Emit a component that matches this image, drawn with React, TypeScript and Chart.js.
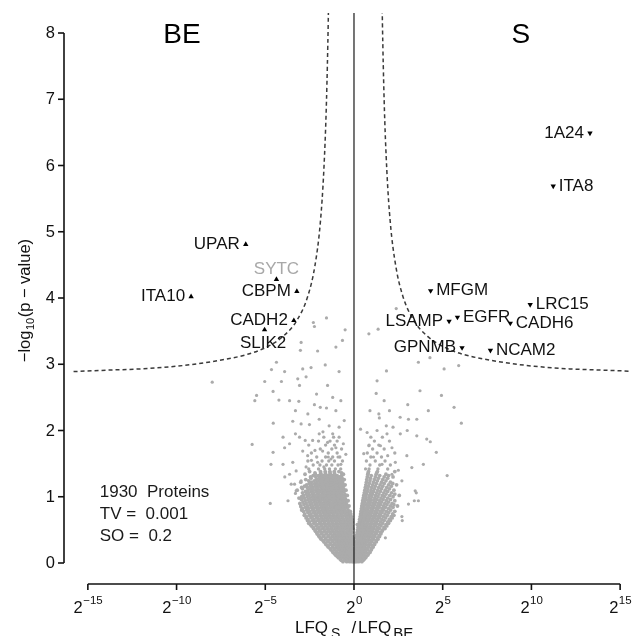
import React, { useEffect, useRef } from 'react';
import { Chart, registerables } from 'chart.js';

Chart.register(...registerables);

const FONT = '"Liberation Sans", Arial, Helvetica, sans-serif';

// ---- text / tick data ----
const groupLabels = ['BE', 'S'];
const yTicks = [0, 1, 2, 3, 4, 5, 6, 7, 8];
const xTickExponents = [-15, -10, -5, 0, 5, 10, 15];
const annotationLines = ['1930  Proteins', 'TV =  0.001', 'SO =  0.2'];

// ---- labelled proteins (enriched in BE, up triangles) ----
const upNames = ['UPAR', 'SYTC', 'CBPM', 'ITA10', 'CADH2', 'SLIK2'];
const upX = [-6.1, -4.37, -3.22, -9.18, -3.39, -5.04];
const upY = [4.81, 4.28, 4.1, 4.02, 3.66, 3.52];

// ---- labelled proteins (enriched in S, down triangles) ----
const downNames = ['MFGM', 'LRC15', 'LSAMP', 'EGFR', 'CADH6', 'GPNMB', 'NCAM2', '1A24', 'ITA8'];
const downX = [4.32, 9.93, 5.36, 5.83, 8.81, 6.09, 7.69, 13.3, 11.23];
const downY = [4.11, 3.9, 3.65, 3.71, 3.62, 3.25, 3.21, 6.49, 5.69];

// label placement (style, not data)
const upSide = ['left', 'above', 'left', 'left', 'left', 'below'];
const downSide = ['right', 'right', 'left', 'right', 'right', 'left', 'right', 'left', 'right'];
const greyLabels = ['SYTC'];

// ---- significance curves ----
const curveLeftX = [-16.2, -14, -12, -10, -8, -6, -5, -4, -3.2, -2.6, -2.2, -1.9, -1.7, -1.55, -1.45, -1.4];
const curveLeftY = [2.885, 2.91, 2.93, 2.97, 3.04, 3.15, 3.25, 3.42, 3.67, 4.03, 4.49, 5.13, 5.93, 6.98, 8.19, 9.1];
const curveRightX = [1.55, 1.6, 1.7, 1.85, 2.05, 2.35, 2.75, 3.35, 4.15, 5.15, 6.15, 8.15, 10.15, 12.15, 14.15, 16];
const curveRightY = [9.1, 8.19, 6.98, 5.93, 5.13, 4.49, 4.03, 3.67, 3.42, 3.25, 3.15, 3.04, 2.97, 2.93, 2.91, 2.89];

// ---- background proteins: dense core, rows of [y, x...] ----
const coreRowsA: number[][] = [
  [0.02, -0.62, -0.41, -0.25, -0.12, -0.03, 0.05, 0.14, 0.27, 0.44],
  [0.06, -0.78, -0.55, -0.38, -0.22, -0.09, 0.02, 0.11, 0.23, 0.36, 0.58],
  [0.1, -0.95, -0.7, -0.52, -0.35, -0.2, -0.08, 0.06, 0.17, 0.31, 0.47, 0.69],
  [0.14, -1.1, -0.86, -0.64, -0.47, -0.3, -0.15, -0.04, 0.09, 0.22, 0.38, 0.55, 0.81],
  [0.18, -1.22, -0.98, -0.77, -0.58, -0.41, -0.26, -0.11, 0.03, 0.15, 0.29, 0.45, 0.63, 0.9],
  [0.22, -1.35, -1.08, -0.9, -0.69, -0.52, -0.36, -0.2, -0.07, 0.08, 0.2, 0.36, 0.52, 0.71, 0.99],
  [0.26, -1.5, -1.2, -0.99, -0.8, -0.62, -0.45, -0.3, -0.14, 0.1, 0.24, 0.4, 0.58, 0.79, 1.06],
  [0.3, -1.62, -1.33, -1.1, -0.9, -0.72, -0.55, -0.38, -0.22, -0.08, 0.13, 0.3, 0.47, 0.66, 0.88, 1.15],
  [0.34, -1.75, -1.45, -1.22, -1.0, -0.82, -0.63, -0.47, -0.3, -0.13, 0.17, 0.35, 0.53, 0.72, 0.95, 1.25],
  [0.38, -1.9, -1.58, -1.31, -1.1, -0.91, -0.72, -0.55, -0.37, -0.2, 0.11, 0.22, 0.41, 0.6, 0.8, 1.02, 1.33],
  [0.42, -2.0, -1.7, -1.44, -1.2, -1.0, -0.8, -0.62, -0.44, -0.26, 0.15, 0.27, 0.46, 0.66, 0.86, 1.1, 1.42],
  [0.46, -2.1, -1.8, -1.55, -1.31, -1.09, -0.89, -0.7, -0.5, -0.3, -0.12, 0.18, 0.32, 0.52, 0.71, 0.93, 1.18, 1.5],
  [0.5, -2.2, -1.9, -1.63, -1.4, -1.18, -0.97, -0.77, -0.57, -0.36, -0.16, 0.2, 0.37, 0.57, 0.77, 0.99, 1.25, 1.62],
  [0.54, -2.3, -1.98, -1.72, -1.49, -1.26, -1.05, -0.84, -0.63, -0.42, -0.2, 0.23, 0.42, 0.62, 0.84, 1.06, 1.33, 1.7],
  [0.58, -2.45, -2.08, -1.81, -1.57, -1.34, -1.12, -0.9, -0.69, -0.48, -0.25, 0.19, 0.27, 0.47, 0.68, 0.9, 1.14, 1.42, 1.8],
  [0.62, -2.5, -2.18, -1.9, -1.65, -1.41, -1.19, -0.97, -0.75, -0.53, -0.29, -0.1, 0.3, 0.51, 0.73, 0.96, 1.2, 1.5, 1.9],
  [0.66, -2.6, -2.26, -1.97, -1.72, -1.48, -1.25, -1.03, -0.81, -0.58, -0.33, -0.12, 0.32, 0.55, 0.78, 1.02, 1.28, 1.58, 2.0],
  [0.7, -2.68, -2.35, -2.05, -1.79, -1.55, -1.31, -1.08, -0.86, -0.63, -0.38, -0.15, 0.35, 0.59, 0.83, 1.08, 1.35, 1.66, 2.1],
  [0.74, -2.78, -2.42, -2.12, -1.86, -1.61, -1.37, -1.14, -0.9, -0.67, -0.42, -0.18, 0.37, 0.62, 0.88, 1.14, 1.42, 1.75, 2.18],
  [0.78, -2.85, -2.5, -2.2, -1.92, -1.67, -1.43, -1.19, -0.95, -0.71, -0.46, -0.21, 0.39, 0.66, 0.92, 1.2, 1.5, 1.84, 2.3],
  [0.82, -2.9, -2.57, -2.26, -1.98, -1.72, -1.48, -1.23, -0.99, -0.75, -0.5, 0.42, 0.7, 0.97, 1.26, 1.58, 1.95],
  [0.86, -3.0, -2.62, -2.31, -2.03, -1.77, -1.52, -1.27, -1.03, -0.78, -0.53, -0.28, 0.44, 0.73, 1.02, 1.32, 1.66, 2.05, 2.45],
  [0.9, -3.05, -2.7, -2.38, -2.09, -1.82, -1.56, -1.31, -1.06, -0.81, -0.56, 0.47, 0.77, 1.07, 1.38, 1.74, 2.15],
  [0.94, -2.75, -2.42, -2.13, -1.86, -1.6, -1.35, -1.1, -0.85, -0.6, -0.33, 0.49, 0.8, 1.12, 1.45, 1.82, 2.3],
  [0.98, -3.1, -2.8, -2.47, -2.18, -1.9, -1.64, -1.38, -1.13, -0.88, -0.63, 0.52, 0.84, 1.17, 1.52, 1.9],
  [1.02, -2.85, -2.52, -2.22, -1.94, -1.67, -1.41, -1.16, -0.91, -0.66, -0.38, 0.55, 0.88, 1.22, 1.6, 2.02, 2.55],
  [1.06, -2.9, -2.56, -2.26, -1.97, -1.7, -1.44, -1.19, -0.94, -0.69, 0.58, 0.92, 1.28, 1.68, 2.12],
  [1.1, -3.2, -2.6, -2.3, -2.0, -1.73, -1.47, -1.22, -0.97, -0.72, -0.45, 0.61, 0.96, 1.34, 1.76, 2.25],
  [1.14, -2.95, -2.63, -2.32, -2.03, -1.76, -1.5, -1.25, -0.99, -0.74, 0.64, 1.0, 1.4, 1.85],
  [1.18, -2.67, -2.36, -2.06, -1.78, -1.52, -1.27, -1.01, -0.76, -0.5, 0.67, 1.05, 1.47, 1.95, 2.4],
  [1.22, -3.0, -2.4, -2.09, -1.8, -1.54, -1.29, -1.03, -0.78, 0.7, 1.1, 1.55, 2.05],
  [1.26, -2.72, -2.12, -1.82, -1.56, -1.3, -1.05, -0.8, -0.55, 0.72, 1.15, 1.62],
  [1.3, -2.45, -2.15, -1.84, -1.58, -1.32, -1.07, -0.82, 0.75, 1.2, 1.7, 2.2],
  [1.34, -2.76, -2.18, -1.86, -1.6, -1.34, -1.09, -0.6, 0.78, 1.25, 1.8],
  [1.38, -2.5, -1.89, -1.62, -1.36, -1.11, -0.85, 0.82, 1.32, 2.3],
];

// interleaved rows, placed between the points of the rows above
const coreRowsB: number[][] = [
  [0.04, -0.72, -0.5, -0.33, -0.18, -0.07, 0.01, 0.1, 0.2, 0.35, 0.52],
  [0.08, -0.88, -0.66, -0.46, -0.3, -0.15, -0.04, 0.07, 0.17, 0.3, 0.47, 0.66],
  [0.12, -1.04, -0.82, -0.61, -0.43, -0.27, -0.14, 0.0, 0.12, 0.24, 0.39, 0.58, 0.78],
  [0.16, -1.18, -0.98, -0.75, -0.55, -0.38, -0.22, -0.09, 0.03, 0.15, 0.3, 0.46, 0.68, 0.9],
  [0.2, -1.3, -1.1, -0.87, -0.67, -0.5, -0.33, -0.18, -0.04, 0.09, 0.22, 0.37, 0.54, 0.76, 0.98],
  [0.24, -1.45, -1.21, -0.99, -0.79, -0.6, -0.44, -0.28, -0.13, 0.14, 0.28, 0.44, 0.61, 0.85, 1.08],
  [0.28, -1.58, -1.35, -1.1, -0.9, -0.71, -0.54, -0.37, -0.22, -0.06, 0.17, 0.32, 0.49, 0.68, 0.92, 1.16],
  [0.32, -1.7, -1.48, -1.22, -1.0, -0.81, -0.63, -0.46, -0.3, -0.15, 0.05, 0.21, 0.38, 0.56, 0.77, 1.01, 1.26],
  [0.36, -1.85, -1.6, -1.33, -1.11, -0.91, -0.72, -0.55, -0.38, -0.22, -0.05, 0.26, 0.44, 0.62, 0.83, 1.1, 1.35],
  [0.4, -1.97, -1.74, -1.45, -1.21, -1.0, -0.81, -0.63, -0.46, -0.28, -0.1, 0.16, 0.31, 0.5, 0.7, 0.91, 1.17, 1.44],
  [0.44, -2.08, -1.85, -1.57, -1.32, -1.1, -0.9, -0.71, -0.53, -0.35, -0.17, 0.21, 0.36, 0.56, 0.76, 0.98, 1.26, 1.52],
  [0.48, -2.17, -1.95, -1.67, -1.43, -1.2, -0.99, -0.79, -0.6, -0.4, -0.21, 0.25, 0.42, 0.61, 0.82, 1.05, 1.34, 1.58],
  [0.52, -2.28, -2.05, -1.76, -1.51, -1.29, -1.07, -0.87, -0.67, -0.46, -0.26, -0.07, 0.28, 0.47, 0.67, 0.88, 1.12, 1.43, 1.75],
  [0.56, -2.4, -2.14, -1.85, -1.6, -1.37, -1.15, -0.94, -0.73, -0.52, -0.31, -0.1, 0.32, 0.52, 0.73, 0.95, 1.2, 1.52, 1.85],
  [0.6, -2.55, -2.26, -1.94, -1.69, -1.45, -1.23, -1.01, -0.79, -0.58, -0.36, -0.14, 0.37, 0.57, 0.79, 1.02, 1.28, 1.61, 1.95],
  [0.64, -2.62, -2.34, -2.04, -1.77, -1.53, -1.3, -1.08, -0.86, -0.64, -0.41, -0.2, 0.4, 0.62, 0.84, 1.08, 1.35, 1.7, 2.05],
  [0.68, -2.7, -2.43, -2.11, -1.84, -1.6, -1.36, -1.14, -0.92, -0.69, -0.45, -0.22, 0.43, 0.66, 0.9, 1.15, 1.43, 1.79, 2.15],
  [0.72, -2.8, -2.51, -2.2, -1.92, -1.67, -1.43, -1.19, -0.97, -0.74, -0.5, -0.26, 0.47, 0.71, 0.95, 1.22, 1.5, 1.88, 2.25],
  [0.76, -2.6, -2.27, -1.99, -1.74, -1.49, -1.25, -1.02, -0.78, -0.54, -0.3, 0.5, 0.75, 1.01, 1.28, 1.58, 1.96],
  [0.8, -2.95, -2.67, -2.35, -2.06, -1.8, -1.55, -1.31, -1.07, -0.83, -0.58, -0.33, 0.53, 0.79, 1.06, 1.35, 1.67, 2.07],
  [0.84, -2.74, -2.42, -2.12, -1.85, -1.6, -1.35, -1.11, -0.87, -0.62, -0.38, 0.56, 0.84, 1.12, 1.42, 1.77, 2.2],
  [0.88, -2.82, -2.47, -2.17, -1.9, -1.65, -1.4, -1.15, -0.91, -0.66, -0.41, 0.59, 0.88, 1.17, 1.49, 1.86, 2.25],
  [0.92, -2.88, -2.54, -2.24, -1.96, -1.69, -1.44, -1.19, -0.94, -0.69, -0.44, 0.62, 0.92, 1.23, 1.56, 1.95],
  [0.96, -2.95, -2.59, -2.28, -2.0, -1.73, -1.48, -1.23, -0.98, -0.73, -0.47, 0.65, 0.96, 1.29, 1.64, 2.06],
  [1.0, -2.95, -2.64, -2.33, -2.05, -1.78, -1.52, -1.26, -1.01, -0.76, -0.5, 0.68, 1.0, 1.35, 1.71, 2.2],
  [1.04, -2.69, -2.37, -2.08, -1.8, -1.54, -1.29, -1.04, -0.79, -0.52, 0.71, 1.05, 1.41, 1.81, 2.3],
  [1.08, -2.73, -2.41, -2.11, -1.83, -1.57, -1.31, -1.06, -0.81, -0.57, 0.75, 1.1, 1.48, 1.9],
  [1.12, -2.9, -2.45, -2.15, -1.86, -1.6, -1.34, -1.09, -0.84, -0.58, 0.78, 1.15, 1.55, 2.0],
  [1.16, -2.79, -2.47, -2.17, -1.89, -1.63, -1.37, -1.12, -0.86, -0.6, 0.82, 1.2, 1.62, 2.1],
  [1.2, -2.52, -2.21, -1.92, -1.65, -1.39, -1.14, -0.88, -0.63, 0.86, 1.26, 1.7, 2.18],
  [1.24, -2.55, -2.24, -1.95, -1.67, -1.41, -1.16, -0.9, -0.64, 0.9, 1.32, 1.8],
  [1.28, -2.42, -1.97, -1.69, -1.43, -1.18, -0.92, -0.67, 0.93, 1.38, 1.9],
  [1.32, -2.3, -2.0, -1.71, -1.45, -1.2, -0.95, -0.7, 0.97, 1.45, 1.95],
  [1.36, -2.2, -1.88, -1.61, -1.35, -1.1, -0.7, 0.8, 1.28],
];

// upper fringe of the cloud
const coreRowsC: number[][] = [
  [1.42, -2.55, -2.0, -1.65, -1.38, -1.05, -0.75, 0.85, 1.35, 1.9],
  [1.48, -2.3, -1.92, -1.55, -1.25, -0.9, 0.9, 1.45, 2.05],
  [1.54, -2.6, -1.8, -1.42, -1.1, -0.65, 0.7, 1.2, 1.75],
  [1.6, -2.1, -1.6, -1.2, -0.8, 0.95, 1.55],
  [1.66, -2.4, -1.45, -0.95, 0.75, 1.3, 2.3],
  [1.72, -1.9, -1.25, -0.7, 1.05, 1.7],
  [1.78, -2.55, -1.6, -1.1, 0.85, 1.4],
  [1.84, -2.0, -1.35, -0.95, 1.15, 2.0],
  [1.9, -1.7, -1.15, 0.95, 1.6],
];

// ---- background proteins: scattered ones ----
const sparseX = [
  -1.55, -2.29, -2.23, -0.5, -2.98, -3.02, -2.05, -1.02, -0.65, -4.37, -4.65, -3.91, -2.89, -2.42, -1.62, -0.84,
  -5.03, -4.09, -3.17, -2.7, -3.07, -4.56, -5.49, -5.59, -4.23, -3.63, -3.11, -2.11, -1.49, -2.23, -1.55, -0.74,
  -1.02, -4.55, -3.45, -2.98, -2.51, -1.96, -1.4, -0.84, -7.99, -5.74, -4.72, -4.68, -4.56, -4.0, -3.91, -3.63,
  -3.72, -3.45, -3.26, -3.54, -3.07, -2.89, -2.61, -2.33, -1.96, -2.05, -1.77, -1.49, -1.3, -1.02, -0.84, -0.74,
  -0.46, -2.98, -2.7, -2.4, -1.2, -0.6, -1.7, -2.2, -3.3, -3.9, -0.9, -1.45, -2.75, -3.3, -1.75, -0.55,
  -2.6, -3.3, -1.9, -1.2, -4.0, -3.63, -3.35, -3.26, -2.98, -2.98,
  2.38, 1.36, 0.84, 3.63, 4.28, 1.83, 5.08, 5.9, 1.3, 1.25, 3.72, 4.93, 3.03, 5.64, 4.19, 1.4,
  1.43, 3.07, 3.54, 6.05, 0.37, 0.74, 1.86, 2.61, 3.54, 4.1, 4.64, 4.3, 5.25, 3.51, 3.4, 2.72,
  0.84, 1.49, 2.14, 2.98, 3.91, 0.65, 1.58, 2.33, 3.26, 2.14, 2.7, 3.45, 3.63, 3.07, 2.7, 1.77,
  2.2, 1.1, 1.9, 2.5, 1.3, 0.55, 3.0, 2.0, 2.6, 0.9, 1.7, 1.82,
];
const sparseY = [
  3.7, 3.63, 3.57, 3.52, 3.33, 3.21, 3.2, 3.26, 3.36, 3.03, 2.92, 2.89, 2.93, 2.95, 2.99, 2.89,
  2.74, 2.74, 2.78, 2.81, 2.68, 2.59, 2.53, 2.45, 2.46, 2.45, 2.44, 2.55, 2.68, 2.39, 2.34, 2.45,
  2.3, 2.11, 2.14, 2.1, 2.09, 2.17, 2.07, 2.05, 2.73, 1.79, 0.9, 1.49, 1.67, 1.9, 1.74, 1.8,
  0.94, 1.52, 1.39, 1.19, 1.9, 1.69, 1.62, 1.85, 1.95, 1.52, 1.69, 1.82, 1.57, 1.74, 1.9, 1.49,
  1.64, 1.24, 1.45, 1.55, 1.95, 1.8, 1.45, 1.7, 1.05, 1.3, 1.6, 1.6, 1.85, 1.95, 1.98, 2.15,
  2.25, 2.3, 2.35, 2.5, 1.49, 1.34, 1.19, 1.09, 0.96, 0.84,
  3.84, 3.53, 3.46, 3.03, 3.1, 2.9, 2.93, 2.98, 2.75, 2.56, 2.6, 2.53, 2.39, 2.35, 2.3, 2.25,
  2.19, 2.17, 2.17, 2.11, 2.02, 1.97, 1.95, 1.95, 1.92, 1.87, 1.67, 1.83, 1.32, 1.06, 0.94, 0.64,
  1.77, 1.77, 1.74, 1.62, 1.49, 1.42, 1.49, 1.52, 1.44, 1.34, 1.24, 1.09, 0.94, 0.89, 0.7, 0.38,
  2.05, 1.6, 1.62, 1.4, 2.0, 1.65, 2.0, 2.3, 2.2, 2.3, 2.45, 2.07,
];

const pairs = (xs: number[], ys: number[]) => xs.map((x, i) => ({ x, y: ys[i] }));
const rowsToPoints = (rows: number[][]) => rows.flatMap(([y, ...xsRow]) => xsRow.map((x) => ({ x, y })));

const decorPlugin = {
  id: 'volcanoDecor',
  afterDatasetsDraw(chart: any) {
    const ctx: CanvasRenderingContext2D = chart.ctx;
    const xs = chart.scales.x;
    const ys = chart.scales.y;
    const ca = chart.chartArea;
    ctx.save();

    // vertical reference line at 2^0
    const x0 = xs.getPixelForValue(0);
    ctx.strokeStyle = '#1a1a1a';
    ctx.lineWidth = 1.2;
    ctx.beginPath();
    ctx.moveTo(x0, ca.top);
    ctx.lineTo(x0, ca.bottom);
    ctx.stroke();

    // y axis
    const axX = ca.left - 7;
    ctx.strokeStyle = '#111';
    ctx.lineWidth = 1.6;
    ctx.beginPath();
    ctx.moveTo(axX, ys.getPixelForValue(yTicks[0]));
    ctx.lineTo(axX, ys.getPixelForValue(yTicks[yTicks.length - 1]));
    ctx.stroke();
    ctx.fillStyle = '#111';
    ctx.font = `16.5px ${FONT}`;
    ctx.textAlign = 'right';
    ctx.textBaseline = 'middle';
    yTicks.forEach((v) => {
      const py = ys.getPixelForValue(v);
      ctx.beginPath();
      ctx.moveTo(axX - 6, py);
      ctx.lineTo(axX, py);
      ctx.stroke();
      ctx.fillText(String(v), axX - 9, py + 0.5);
    });

    // x axis
    const axY = ca.bottom;
    ctx.beginPath();
    ctx.moveTo(xs.getPixelForValue(xTickExponents[0]), axY);
    ctx.lineTo(xs.getPixelForValue(xTickExponents[xTickExponents.length - 1]), axY);
    ctx.stroke();
    ctx.textAlign = 'left';
    ctx.textBaseline = 'alphabetic';
    xTickExponents.forEach((e) => {
      const px = xs.getPixelForValue(e);
      ctx.beginPath();
      ctx.moveTo(px, axY);
      ctx.lineTo(px, axY + 6);
      ctx.stroke();
      const expStr = e < 0 ? '\u2212' + Math.abs(e) : String(e);
      ctx.font = `16.5px ${FONT}`;
      const wb = ctx.measureText('2').width;
      ctx.font = `11.5px ${FONT}`;
      const we = ctx.measureText(expStr).width;
      const start = px - (wb + we) / 2;
      ctx.font = `16.5px ${FONT}`;
      ctx.fillText('2', start, axY + 29);
      ctx.font = `11.5px ${FONT}`;
      ctx.fillText(expStr, start + wb + 0.5, axY + 20);
    });

    // x axis title: LFQ_S /LFQ_BE
    {
      let cx = x0 - 59;
      const base = axY + 49;
      ctx.font = `17px ${FONT}`;
      ctx.fillText('LFQ', cx, base);
      cx += ctx.measureText('LFQ').width + 3;
      ctx.font = `14px ${FONT}`;
      ctx.fillText('S', cx, base + 5);
      cx += ctx.measureText('S').width + 11;
      ctx.font = `17px ${FONT}`;
      ctx.fillText('/', cx, base);
      cx += ctx.measureText('/').width + 2;
      ctx.fillText('LFQ', cx, base);
      cx += ctx.measureText('LFQ').width + 2;
      ctx.font = `15px ${FONT}`;
      ctx.fillText('BE', cx, base + 5);
    }

    // y axis title: -log10(p - value)
    {
      ctx.save();
      ctx.translate(29.5, ys.getPixelForValue(3) - 2);
      ctx.rotate(-Math.PI / 2);
      let cx = 0;
      ctx.font = `16.5px ${FONT}`;
      ctx.fillText('\u2212log', cx, 0);
      cx += ctx.measureText('\u2212log').width + 0.5;
      ctx.font = `11px ${FONT}`;
      ctx.fillText('10', cx, 4);
      cx += ctx.measureText('10').width + 0.5;
      ctx.font = `16.5px ${FONT}`;
      ctx.fillText('(p \u2212 value)', cx, 0);
      ctx.restore();
    }

    // group labels
    ctx.font = `28px ${FONT}`;
    ctx.textAlign = 'center';
    ctx.fillStyle = '#000';
    const groupPos = [-9.7, 9.4];
    groupLabels.forEach((t, i) => {
      ctx.fillText(t, xs.getPixelForValue(groupPos[i]), ca.top + 30);
    });

    // protein labels
    ctx.font = `17px ${FONT}`;
    ctx.textBaseline = 'middle';
    const drawLabels = (names: string[], xsArr: number[], ysArr: number[], sides: string[]) => {
      names.forEach((n, i) => {
        const px = xs.getPixelForValue(xsArr[i]);
        const py = ys.getPixelForValue(ysArr[i]);
        ctx.fillStyle = greyLabels.includes(n) ? '#a8a8a8' : '#111';
        const side = sides[i];
        if (side === 'left') {
          ctx.textAlign = 'right';
          ctx.fillText(n, px - 6, py);
        } else if (side === 'right') {
          ctx.textAlign = 'left';
          ctx.fillText(n, px + 5.5, py);
        } else if (side === 'above') {
          ctx.textAlign = 'center';
          ctx.fillText(n, px, py - 10);
        } else {
          ctx.textAlign = 'center';
          ctx.fillText(n, px - 1.5, py + 14);
        }
      });
    };
    drawLabels(upNames, upX, upY, upSide);
    drawLabels(downNames, downX, downY, downSide);

    // annotation block
    ctx.fillStyle = '#1a1a1a';
    ctx.font = `17px ${FONT}`;
    ctx.textAlign = 'left';
    ctx.textBaseline = 'middle';
    const annX = xs.getPixelForValue(-14.33);
    const annTop = ys.getPixelForValue(1.06);
    annotationLines.forEach((t, i) => {
      ctx.fillText(t, annX, annTop + i * 22);
    });

    ctx.restore();
  },
};

const greyPoint = (data: { x: number; y: number }[], r: number, label: string) => ({
  label,
  data,
  pointRadius: r,
  pointBackgroundColor: '#ababab',
  pointBorderWidth: 0,
  order: 3,
});

export default function App() {
  const ref = useRef<HTMLCanvasElement | null>(null);
  useEffect(() => {
    if (!ref.current) return;
    const chart = new Chart(ref.current, {
      type: 'scatter',
      data: {
        datasets: [
          {
            label: 'BE enriched',
            data: pairs(upX, upY),
            pointStyle: 'triangle',
            pointRadius: 3.1,
            pointBackgroundColor: '#000',
            pointBorderColor: '#000',
            pointBorderWidth: 0,
            order: 1,
          },
          {
            label: 'S enriched',
            data: pairs(downX, downY),
            pointStyle: 'triangle',
            rotation: 180,
            pointRadius: 3.1,
            pointBackgroundColor: '#000',
            pointBorderColor: '#000',
            pointBorderWidth: 0,
            order: 1,
          },
          {
            label: 'threshold left',
            data: pairs(curveLeftX, curveLeftY),
            showLine: true,
            borderColor: '#3a3a3a',
            borderWidth: 1.5,
            borderDash: [4, 3],
            pointRadius: 0,
            cubicInterpolationMode: 'monotone',
            order: 2,
          } as any,
          {
            label: 'threshold right',
            data: pairs(curveRightX, curveRightY),
            showLine: true,
            borderColor: '#3a3a3a',
            borderWidth: 1.5,
            borderDash: [4, 3],
            pointRadius: 0,
            cubicInterpolationMode: 'monotone',
            order: 2,
          } as any,
          greyPoint(pairs(sparseX, sparseY), 1.6, 'proteins sparse'),
          greyPoint(rowsToPoints(coreRowsA), 1.9, 'proteins core A'),
          greyPoint(rowsToPoints(coreRowsB), 1.9, 'proteins core B'),
          greyPoint(rowsToPoints(coreRowsC), 1.7, 'proteins fringe'),
        ],
      },
      options: {
        responsive: false,
        animation: false,
        devicePixelRatio: 1,
        events: [],
        layout: { padding: { left: 71, right: 0, top: 13, bottom: 52 } },
        scales: {
          x: { type: 'linear', min: -15.95, max: 15.5, display: false },
          y: { type: 'linear', min: -0.317, max: 8.302, display: false },
        },
        plugins: { legend: { display: false }, tooltip: { enabled: false } },
      },
      plugins: [decorPlugin],
    });
    return () => chart.destroy();
  }, []);
  return (
    <div style={{ position: 'absolute', left: 0, top: 0, width: 633, height: 636, background: '#fff' }}>
      <canvas ref={ref} width={633} height={636} style={{ display: 'block' }} />
    </div>
  );
}
